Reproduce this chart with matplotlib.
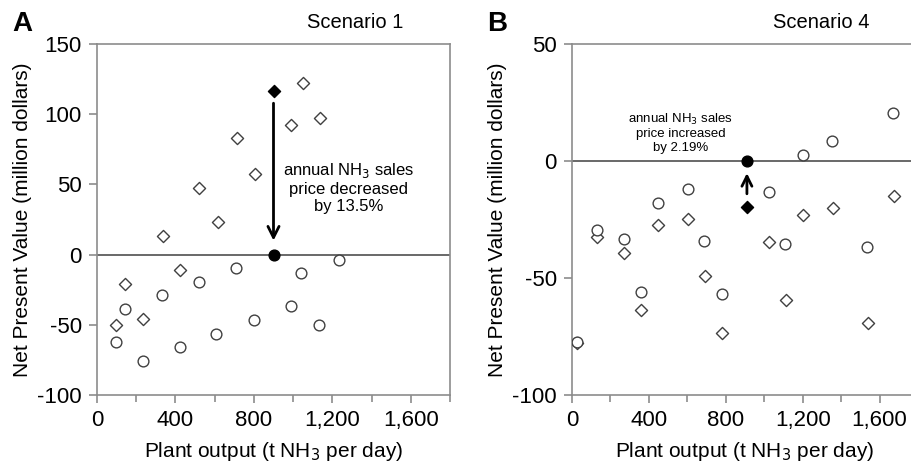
import matplotlib
matplotlib.use('Agg')
import matplotlib.pyplot as plt
import numpy as np

plt.rcParams['font.family'] = ['Liberation Sans', 'DejaVu Sans']
plt.rcParams['axes.unicode_minus'] = False

# Panel A, Scenario 1
a_dia_x = [1049, 1137, 991, 712, 804, 522, 615, 335, 425, 143, 236, 97]
a_dia_y = [122.5, 97, 92.4, 82.7, 57.6, 47.6, 23.5, 13.5, -10.7, -20.9, -45.8, -50]
a_cir_x = [1232, 707, 1042, 520, 330, 143, 991, 799, 1132, 608, 95, 423, 236]
a_cir_y = [-3.6, -9.2, -13.3, -19.4, -29, -38.6, -36.7, -46.7, -50.2, -56.2, -62, -65.9, -75.8]
a_ref_x = 900
a_ref_before = 116.8
a_ref_after = 0

# Panel B, Scenario 4
b_cir_x = [1671, 1354, 1200, 604, 1023, 447, 130, 270, 689, 1110, 1536, 358, 779, 24]
b_cir_y = [20.6, 8.5, 2.7, -11.8, -13.1, -17.8, -29.7, -33.3, -34.3, -35.5, -36.8, -55.9, -57, -77.3]
b_dia_x = [1675, 1356, 1202, 604, 447, 130, 270, 1025, 691, 1112, 360, 1538, 781, 26]
b_dia_y = [-14.9, -20.1, -23.1, -24.7, -27.3, -32.6, -39.2, -34.6, -49, -59.3, -63.5, -69.4, -73.7, -77.9]
b_ref_x = 910
b_ref_before = -19.7
b_ref_after = 0

xticks = [0, 400, 800, 1200, 1600]
xtick_labels = ['0', '400', '800', '1,200', '1,600']

grey = '#8c8c8c'
dark = '#404040'

W, H = 911, 466
fig = plt.figure(figsize=(W / 100, H / 100), dpi=100)
axA = fig.add_axes([97 / W, 71 / H, 353 / W, 351 / H])
axB = fig.add_axes([572 / W, 71 / H, 346 / W, 351 / H])


def style(ax, ylim, yticks):
	ax.set_xlim(0, 1800)
	ax.set_ylim(*ylim)
	ax.set_xticks(xticks)
	ax.set_xticklabels(xtick_labels)
	ax.set_xticks(np.arange(0, 1801, 200), minor=True)
	ax.set_yticks(yticks)
	for s in ax.spines.values():
		s.set_color(grey)
		s.set_linewidth(1.2)
	ax.tick_params(which='both', direction='out', color=grey, width=1.2, labelsize=16, pad=5)
	ax.tick_params(which='major', length=6)
	ax.tick_params(which='minor', length=5)
	ax.axhline(0, color=dark, lw=1.1, zorder=1)
	ax.set_xlabel('Plant output (t NH$_3$ per day)', fontsize=15, labelpad=6)
	ax.set_ylabel('Net Present Value (million dollars)', fontsize=15, labelpad=4)


mk = dict(facecolor='white', edgecolors=dark, linewidths=1.0, zorder=3)

# A
style(axA, (-100, 150), [-100, -50, 0, 50, 100, 150])
axA.scatter(a_dia_x, a_dia_y, marker='D', s=38, **mk)
axA.scatter(a_cir_x, a_cir_y, marker='o', s=60, **mk)
axA.scatter([a_ref_x], [a_ref_before], marker='D', s=38, color='black', zorder=4)
axA.scatter([a_ref_x], [a_ref_after], marker='o', s=60, color='black', zorder=4)
axA.annotate('', xy=(a_ref_x, a_ref_after + 8), xytext=(a_ref_x, a_ref_before - 7),
			 arrowprops=dict(arrowstyle='->', color='black', lw=2, mutation_scale=20))
axA.text(1281, 48, 'annual NH$_3$ sales\nprice decreased\nby 13.5%', ha='center', va='center',
		 fontsize=12, linespacing=1.15)
axA.text(0.73, 1.06, 'Scenario 1', transform=axA.transAxes, ha='center', va='center', fontsize=14.5)

# B
style(axB, (-100, 50), [-100, -50, 0, 50])
axB.spines['right'].set_visible(False)
axB.scatter(b_dia_x, b_dia_y, marker='D', s=38, **mk)
axB.scatter(b_cir_x, b_cir_y, marker='o', s=60, **mk)
axB.scatter([b_ref_x], [b_ref_before], marker='D', s=38, color='black', zorder=4)
axB.scatter([b_ref_x], [b_ref_after], marker='o', s=60, color='black', zorder=4)
axB.annotate('', xy=(b_ref_x, b_ref_after - 4), xytext=(b_ref_x, b_ref_before + 4.5),
			 arrowprops=dict(arrowstyle='->', color='black', lw=2, mutation_scale=18))
axB.text(566, 12, 'annual NH$_3$ sales\nprice increased\nby 2.19%', ha='center', va='center',
		 fontsize=9.5, linespacing=1.15)
axB.text(0.72, 1.06, 'Scenario 4', transform=axB.transAxes, ha='center', va='center', fontsize=14.5)

fig.text(22 / W, 1 - 24 / H, 'A', fontsize=20, fontweight='bold', ha='center', va='center')
fig.text(497 / W, 1 - 24 / H, 'B', fontsize=20, fontweight='bold', ha='center', va='center')

fig.savefig('out.png', dpi=100)
